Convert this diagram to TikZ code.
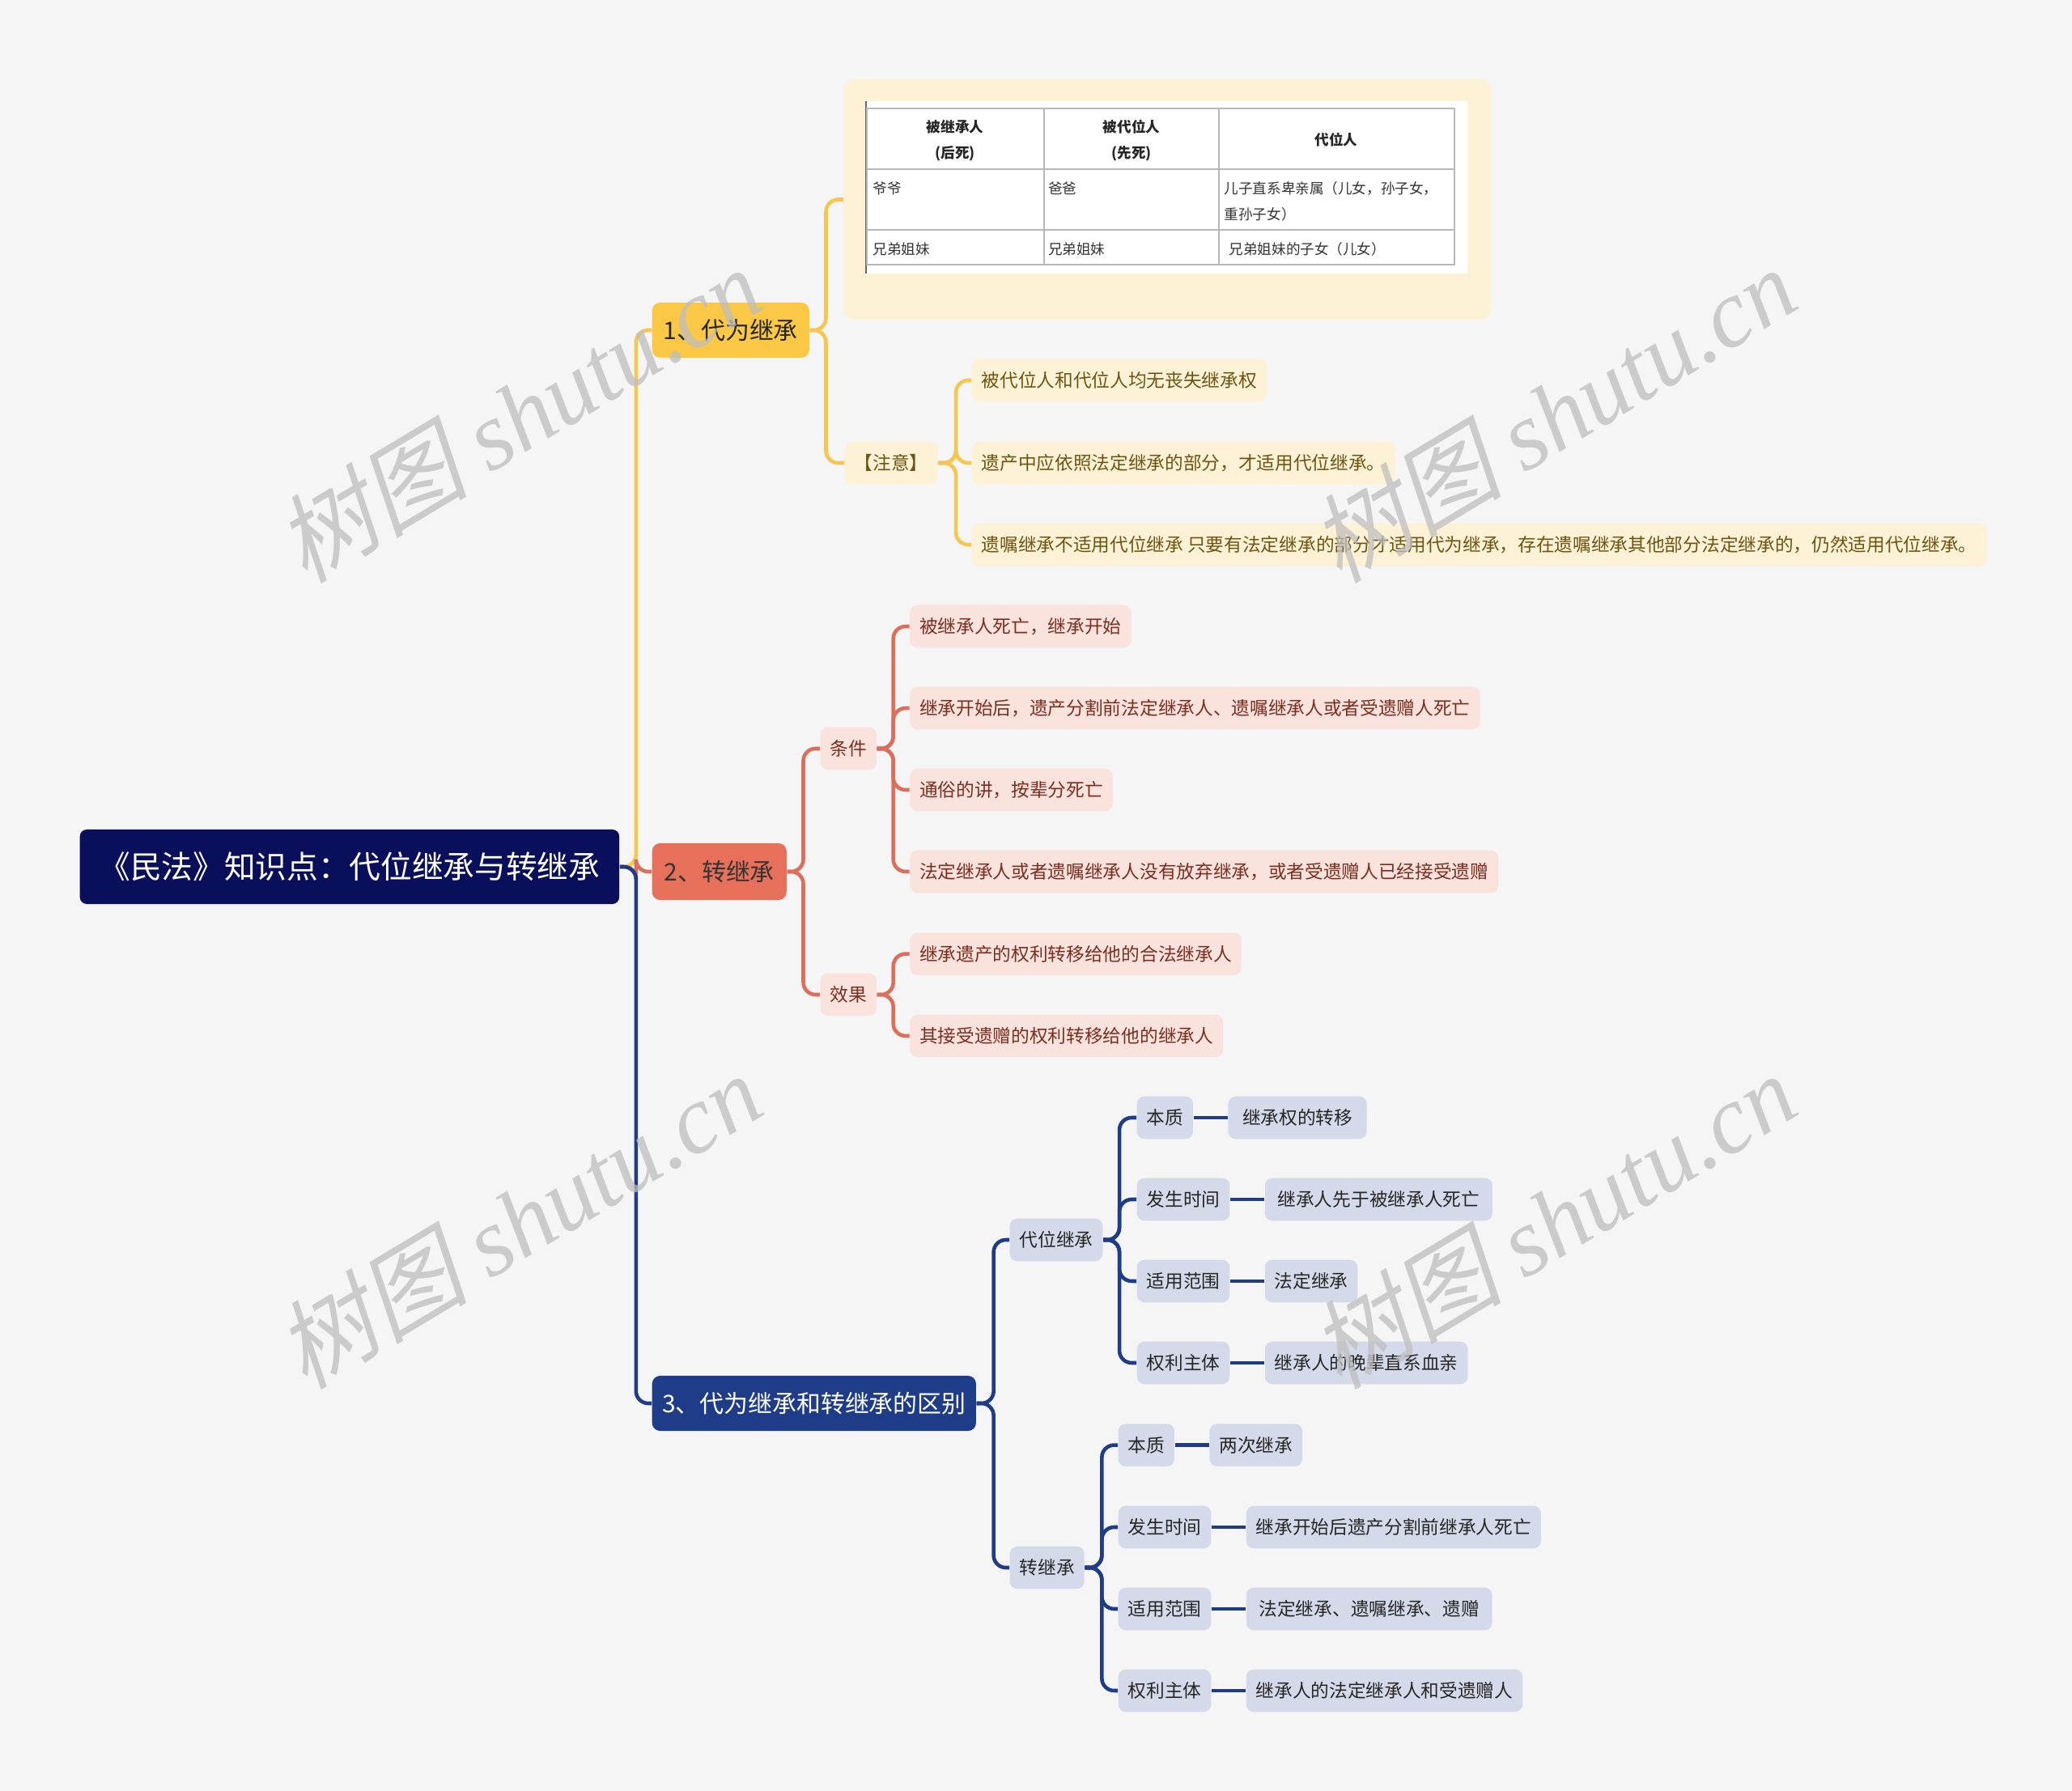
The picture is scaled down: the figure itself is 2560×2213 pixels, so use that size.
\documentclass[tikz,border=0pt]{standalone}
\usepackage{fontspec}
\setmainfont{Noto Sans CJK SC}
\newfontfamily\wmcjk{Noto Sans CJK SC}[FakeSlant=0.22]
\newfontfamily\wmlatin{Liberation Serif}
\usetikzlibrary{positioning}
\definecolor{canvas}{HTML}{F5F5F5}
\definecolor{rootblue}{HTML}{0A0F5B}
\definecolor{ylwfill}{HTML}{FBC845}
\definecolor{ylwline}{HTML}{F6C64E}
\definecolor{ylwpale}{HTML}{FEF2D6}
\definecolor{ylwtext}{HTML}{6E5412}
\definecolor{redfill}{HTML}{E6705A}
\definecolor{redline}{HTML}{DE6E5C}
\definecolor{redpale}{HTML}{FBE3DD}
\definecolor{redtext}{HTML}{7A2E20}
\definecolor{bluefill}{HTML}{1F3C88}
\definecolor{bluepale}{HTML}{D4DAEA}
\definecolor{gridgray}{HTML}{B8B8B8}
\definecolor{wmgray}{HTML}{BEBEBE}
\begin{document}
\begin{tikzpicture}[x=0.01cm,y=-0.01cm,
    box/.style={rounded corners=2.6pt,inner xsep=3.4pt,inner ysep=0pt,minimum height=0.525cm,
      font=\fontsize{6.45pt}{7.8pt}\selectfont,anchor=west},
    topbox/.style={rounded corners=2.8pt,inner sep=0pt,minimum height=0.68cm,
      font=\fontsize{8.5pt}{10pt}\selectfont,anchor=west},
    ynote/.style={box,fill=ylwpale,text=ylwtext},
    rleaf/.style={box,fill=redpale,text=redtext},
    bleaf/.style={box,fill=bluepale,text=black!85},
    yline/.style={draw=ylwline,line width=1.3pt,rounded corners=4.3pt},
    rline/.style={draw=redline,line width=1.3pt,rounded corners=4.3pt},
    bline/.style={draw=bluefill,line width=1.3pt,rounded corners=4.3pt},
    cell/.style={inner sep=0pt,anchor=west,text=black!80,font=\fontsize{5pt}{9.1pt}\selectfont},
    head/.style={inner sep=0pt,align=center,text=black!85,font=\fontsize{5pt}{9.1pt}\selectfont\bfseries},
    wm/.style={text=wmgray,text opacity=0.75,rotate=31,inner sep=0pt}]
  \fill[canvas] (0,0) rectangle (2560,2213);
  \useasboundingbox (0,0) rectangle (2560,2213);

  % root and the three branches
  \node[rounded corners=2.4pt,fill=rootblue,text=white,anchor=west,inner sep=0pt,
    minimum width=6.66cm,minimum height=0.92cm,font=\fontsize{11pt}{13pt}\selectfont]
    (root) at (98,1071) {《民法》知识点：代位继承与转继承};
  \node[topbox,fill=ylwfill,text=black!85,minimum width=1.94cm] (dwjc) at (805,408) {1、代为继承};
  \node[topbox,fill=redfill,text=black!80,minimum width=1.66cm,minimum height=0.70cm] (zjc) at (805,1077) {2、转继承};
  \node[topbox,fill=bluefill,text=white,minimum width=4.00cm] (qb) at (805,1734) {3、代为继承和转继承的区别};

  \draw[yline] (root.east) -- ++(20,0) |- (dwjc.west);
  \draw[rline] (root.east) -- ++(20,0) |- (zjc.west);
  \draw[bline] (root.east) -- ++(20,0) |- (qb.west);

  % 1 -- table and notes
  \node[fill=ylwpale,rounded corners=4pt,anchor=west,inner sep=0pt,
    minimum width=7.99cm,minimum height=2.97cm] (tbl) at (1042,246.5) {};
  \fill[white] (1069.6,125) rectangle (1813,338);
  \draw[black!60,line width=0.3pt] (1070,125) -- (1070,338);
  \draw[gridgray,line width=0.3pt] (1290,134) -- (1290,327) (1506,134) -- (1506,327)
    (1071,209) -- (1797,209) (1071,284) -- (1797,284);
  \draw[gridgray,line width=0.6pt] (1071,134) rectangle (1797,327);
  \node[head] at (1180,174) {被继承人\\(后死)};
  \node[head] at (1398,174) {被代位人\\(先死)};
  \node[head] at (1651,173) {代位人};
  \node[cell] at (1078,233) {爷爷};
  \node[cell] at (1294.5,233) {爸爸};
  \node[cell,align=left] at (1512,249) {儿子直系卑亲属（儿女，孙子女，\\重孙子女）};
  \node[cell] at (1078,308) {兄弟姐妹};
  \node[cell] at (1294.5,308) {兄弟姐妹};
  \node[cell] at (1518,308) {兄弟姐妹的子女（儿女）};

  \node[ynote] (zy) at (1043,572) {【注意】};
  \node[ynote] (zy1) at (1200,470) {被代位人和代位人均无丧失继承权};
  \node[ynote] (zy2) at (1200,572) {遗产中应依照法定继承的部分，才适用代位继承。};
  \node[ynote] (zy3) at (1200,673) {遗嘱继承不适用代位继承 只要有法定继承的部分才适用代为继承，存在遗嘱继承其他部分法定继承的，仍然适用代位继承。};

  \draw[yline] (dwjc.east) -- ++(20,0) |- (tbl.west);
  \draw[yline] (dwjc.east) -- ++(20,0) |- (zy.west);
  \foreach \c in {zy1,zy2,zy3}
    \draw[yline] (zy.east) -- ++(22,0) |- (\c.west);

  % 2 -- conditions and effects
  \node[rleaf] (tj) at (1013,925) {条件};
  \node[rleaf] (xg) at (1013,1229) {效果};
  \node[rleaf] (tj1) at (1123.5,774) {被继承人死亡，继承开始};
  \node[rleaf] (tj2) at (1123.5,875) {继承开始后，遗产分割前法定继承人、遗嘱继承人或者受遗赠人死亡};
  \node[rleaf] (tj3) at (1123.5,976) {通俗的讲，按辈分死亡};
  \node[rleaf] (tj4) at (1123.5,1077) {法定继承人或者遗嘱继承人没有放弃继承，或者受遗赠人已经接受遗赠};
  \node[rleaf] (xg1) at (1123.5,1178.6) {继承遗产的权利转移给他的合法继承人};
  \node[rleaf] (xg2) at (1123.5,1280) {其接受遗赠的权利转移给他的继承人};

  \foreach \c in {tj,xg}
    \draw[rline] (zjc.east) -- ++(20,0) |- (\c.west);
  \foreach \c in {tj1,tj2,tj3,tj4}
    \draw[rline] (tj.east) -- ++(20,0) |- (\c.west);
  \foreach \c in {xg1,xg2}
    \draw[rline] (xg.east) -- ++(20,0) |- (\c.west);

  % 3 -- comparison
  \node[bleaf] (dw) at (1247,1532) {代位继承};
  \node[bleaf] (dw1) at (1404,1381) {本质};
  \node[bleaf] (dw2) at (1404,1482) {发生时间};
  \node[bleaf] (dw3) at (1404,1583) {适用范围};
  \node[bleaf] (dw4) at (1404,1684) {权利主体};
  \node[bleaf,right=0.42cm of dw1,inner xsep=5pt] (dw1v) {继承权的转移};
  \node[bleaf,right=0.42cm of dw2,inner xsep=4.5pt] (dw2v) {继承人先于被继承人死亡};
  \node[bleaf,right=0.42cm of dw3] (dw3v) {法定继承};
  \node[bleaf,right=0.42cm of dw4] (dw4v) {继承人的晚辈直系血亲};

  \node[bleaf] (zj) at (1247,1937) {转继承};
  \node[bleaf] (zj1) at (1381,1785.6) {本质};
  \node[bleaf] (zj2) at (1381,1887) {发生时间};
  \node[bleaf] (zj3) at (1381,1988) {适用范围};
  \node[bleaf] (zj4) at (1381,2089) {权利主体};
  \node[bleaf,right=0.42cm of zj1] (zj1v) {两次继承};
  \node[bleaf,right=0.42cm of zj2] (zj2v) {继承开始后遗产分割前继承人死亡};
  \node[bleaf,right=0.42cm of zj3,inner xsep=4.5pt] (zj3v) {法定继承、遗嘱继承、遗赠};
  \node[bleaf,right=0.42cm of zj4] (zj4v) {继承人的法定继承人和受遗赠人};

  \foreach \c in {dw,zj}
    \draw[bline] (qb.east) -- ++(21,0) |- (\c.west);
  \foreach \i in {1,2,3,4}{
    \draw[bline] (dw.east) -- ++(20,0) |- (dw\i.west);
    \draw[bline] (dw\i.east) -- (dw\i v.west);
    \draw[bline] (zj.east) -- ++(21,0) |- (zj\i.west);
    \draw[bline] (zj\i.east) -- (zj\i v.west);
  }

  % watermarks
  \foreach \p in {(640,512),(1918,512),(640,1508),(1918,1508)}
    \node[wm] at \p {\fontsize{34pt}{38pt}\wmcjk 树图 \wmlatin\itshape shutu.cn};
\end{tikzpicture}
\end{document}
